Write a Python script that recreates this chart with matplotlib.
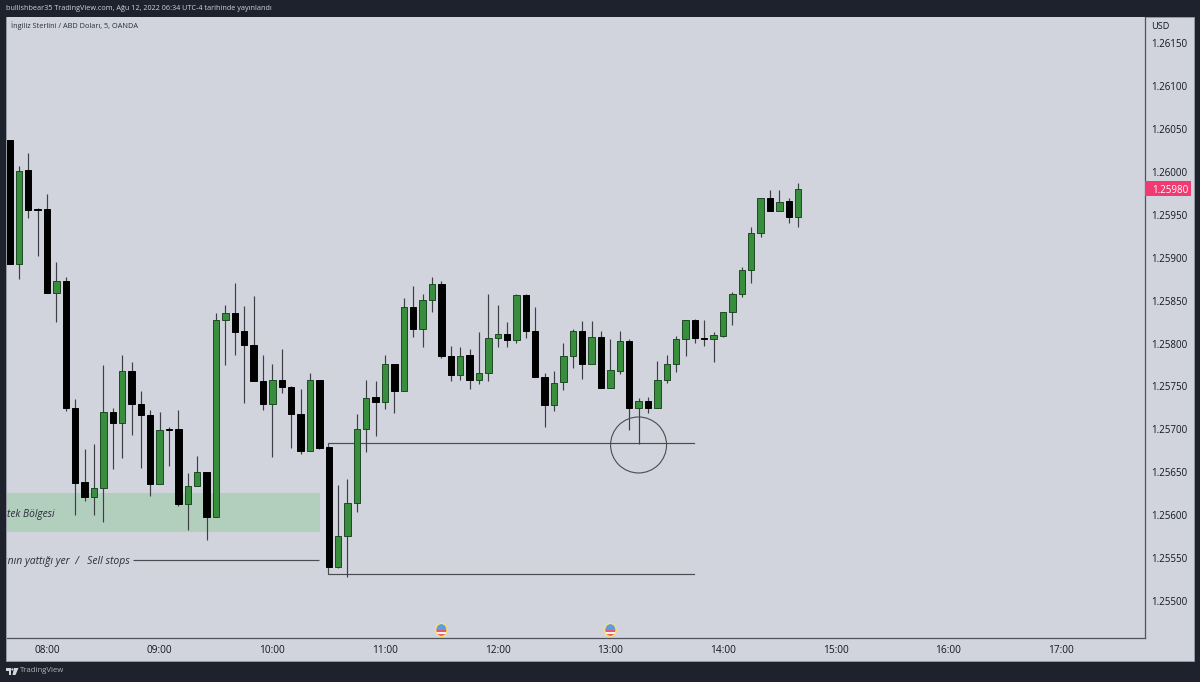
import matplotlib
matplotlib.use("Agg")
import matplotlib.pyplot as plt
from matplotlib.patches import Rectangle, Ellipse, Circle, Polygon
from matplotlib.transforms import blended_transform_factory

# ---- data -------------------------------------------------------------
first_bar = -4
opens = [1.26037,1.25893,1.26002,1.25956,1.25956,1.25859,1.25873,1.25725,1.25639,1.25622,
         1.25632,1.25720,1.25707,1.25768,1.25730,1.25717,1.25637,1.25700,1.25700,1.25613,
         1.25634,1.25651,1.25598,1.25827,1.25835,1.25814,1.25798,1.25756,1.25730,1.25758,
         1.25749,1.25718,1.25675,1.25757,1.25680,1.25540,1.25576,1.25614,1.25701,1.25738,
         1.25732,1.25776,1.25745,1.25843,1.25817,1.25851,1.25869,1.25785,1.25763,1.25787,
         1.25757,1.25766,1.25806,1.25811,1.25804,1.25856,1.25815,1.25761,1.25728,1.25755,
         1.25785,1.25815,1.25776,1.25808,1.25748,1.25768,1.25803,1.25725,1.25733,1.25725,
         1.25758,1.25776,1.25805,1.25827,1.25806,1.25805,1.25809,1.25837,1.25857,1.25886,
         1.25928,1.25969,1.25954,1.25966,1.25947]
closes = [1.25892,1.26001,1.25955,1.25955,1.25859,1.25873,1.25725,1.25638,1.25622,1.25632,
          1.25720,1.25707,1.25768,1.25730,1.25717,1.25637,1.25699,1.25699,1.25613,1.25634,
          1.25650,1.25598,1.25827,1.25835,1.25813,1.25798,1.25756,1.25730,1.25757,1.25749,
          1.25718,1.25675,1.25757,1.25678,1.25540,1.25576,1.25614,1.25701,1.25737,1.25732,
          1.25776,1.25745,1.25843,1.25817,1.25851,1.25869,1.25785,1.25763,1.25786,1.25757,
          1.25766,1.25806,1.25811,1.25804,1.25856,1.25815,1.25761,1.25728,1.25754,1.25785,
          1.25815,1.25776,1.25808,1.25748,1.25769,1.25803,1.25725,1.25733,1.25725,1.25758,
          1.25776,1.25805,1.25827,1.25806,1.25805,1.25810,1.25837,1.25857,1.25886,1.25928,
          1.25969,1.25954,1.25965,1.25947,1.25980]
highs = [1.26037,1.26006,1.26022,1.25957,1.25974,1.25895,1.25877,1.25735,1.25677,1.25683,
         1.25775,1.25725,1.25787,1.25778,1.25745,1.25723,1.25720,1.25703,1.25723,1.25649,
         1.25669,1.25651,1.25836,1.25845,1.25870,1.25844,1.25855,1.25787,1.25776,1.25794,
         1.25751,1.25747,1.25766,1.25758,1.25680,1.25635,1.25642,1.25718,1.25758,1.25756,
         1.25787,1.25776,1.25853,1.25867,1.25858,1.25877,1.25873,1.25797,1.25796,1.25794,
         1.25813,1.25858,1.25845,1.25825,1.25858,1.25857,1.25842,1.25766,1.25768,1.25801,
         1.25817,1.25826,1.25826,1.25815,1.25805,1.25815,1.25805,1.25737,1.25738,1.25780,
         1.25787,1.25809,1.25827,1.25828,1.25827,1.25813,1.25837,1.25860,1.25889,1.25935,
         1.25969,1.25979,1.25979,1.25969,1.25987]
lows = [1.25892,1.25875,1.25946,1.25902,1.25859,1.25825,1.25721,1.25601,1.25617,1.25601,
        1.25593,1.25654,1.25667,1.25694,1.25655,1.25623,1.25637,1.25658,1.25611,1.25583,
        1.25634,1.25571,1.25598,1.25775,1.25787,1.25731,1.25756,1.25723,1.25668,1.25743,
        1.25679,1.25672,1.25675,1.25677,1.25540,1.25539,1.25529,1.25604,1.25674,1.25693,
        1.25724,1.25719,1.25745,1.25807,1.25796,1.25837,1.25783,1.25756,1.25758,1.25747,
        1.25753,1.25756,1.25796,1.25796,1.25801,1.25806,1.25761,1.25703,1.25722,1.25746,
        1.25772,1.25759,1.25776,1.25748,1.25748,1.25765,1.25699,1.25683,1.25719,1.25725,
        1.25754,1.25767,1.25786,1.25801,1.25797,1.25779,1.25807,1.25822,1.25854,1.25870,
        1.25924,1.25954,1.25954,1.25940,1.25935]

price_ticks = [1.25500,1.25550,1.25600,1.25650,1.25700,1.25750,1.25800,1.25850,
               1.25900,1.25950,1.26000,1.26050,1.26100,1.26150]
time_bars = [0,12,24,36,48,60,72,84,96,108]
time_labels = ["08:00","09:00","10:00","11:00","12:00","13:00","14:00","15:00","16:00","17:00"]
event_bars = [42, 60]

zone_top, zone_bottom = 1.25626, 1.25581
stop_line = 1.25548
upper_level, lower_level = 1.25684, 1.25532
circle_bar, circle_price = 63, 1.25682

# ---- style ------------------------------------------------------------
BG = "#1e222d"
PANEL = "#d1d4dc"
GREEN = "#388e3c"
GREEN_EDGE = "#1d4a22"
WICK = "#3d3f44"
TXT = "#131722"
SEP = "#50535e"
LINE = "#4a4c52"
FONT = "Open Sans"
W, H = 1200, 682

fig = plt.figure(figsize=(W/100, H/100), dpi=100, facecolor=BG)

# chrome layer in pixel coordinates
ch = fig.add_axes([0, 0, 1, 1], zorder=0)
ch.set_xlim(0, W); ch.set_ylim(H, 0); ch.axis("off")
ch.add_patch(Rectangle((6, 17), 1187.5, 643.5, fc=PANEL, ec="#9a9da6", lw=0.6))

L, R, T, B = 6.5, 1144.5, 17, 637.5
ax = fig.add_axes([L/W, 1-B/H, (R-L)/W, (B-T)/H], zorder=1)
ax.set_facecolor(PANEL)
ax.set_xlim(-4.313, 116.88)
ax.set_ylim(1.254581, 1.261797)

for s in ("top", "left"):
    ax.spines[s].set_visible(False)
for s in ("right", "bottom"):
    ax.spines[s].set_color(SEP); ax.spines[s].set_linewidth(0.9)

ax.yaxis.tick_right()
ax.set_yticks(price_ticks)
ax.set_yticklabels([f"{p:.5f}" for p in price_ticks], fontfamily=FONT, fontsize=7.0, color=TXT)
ax.set_xticks(time_bars)
ax.set_xticklabels(time_labels, fontfamily=FONT, fontsize=7.3, color=TXT)
ax.tick_params(axis="y", length=0, pad=4.8)
ax.tick_params(axis="x", length=0, pad=5.4)

# zone and drawings
ax.add_patch(Rectangle((-5, zone_bottom), 34.07, zone_top-zone_bottom, fc="#b2cfbd", ec="none", zorder=1))
ax.text(-4.25, (zone_top+zone_bottom)/2 - 0.00002, "tek Bölgesi", fontfamily=FONT, style="italic",
        fontsize=7.3, color="#2a2e39", va="center", ha="left", zorder=2)
ax.text(8.85, stop_line - 0.00001, "ının yattığı yer  /   Sell stops", fontfamily=FONT, style="italic",
        fontsize=7.5, color="#2a2e39", va="center", ha="right", zorder=2, clip_on=True)
ax.plot([9.2, 29], [stop_line, stop_line], color=LINE, lw=0.85, zorder=2, solid_capstyle="butt")
ax.plot([68.9, 29.93, 29.93, 68.9], [upper_level, upper_level, lower_level, lower_level],
        color=LINE, lw=0.85, zorder=2, solid_joinstyle="miter")

# candles
for k, (o, h, l, c) in enumerate(zip(opens, highs, lows, closes)):
    i = first_bar + k
    up = c >= o
    ax.vlines(i, l, h, color=WICK, lw=0.85, zorder=3)
    body_low, body_high = min(o, c), max(o, c)
    ax.bar(i, max(body_high-body_low, 0.00001), bottom=body_low, width=0.68,
           color=GREEN if up else "black", edgecolor=GREEN_EDGE if up else "black",
           linewidth=0.7, zorder=4)

ax.add_patch(Ellipse((circle_bar, circle_price), 5.96, 0.000651, fc="none", ec=LINE, lw=0.8, zorder=5))

# last-price tag
tr = blended_transform_factory(ax.transAxes, ax.transData)
last = closes[-1]
ax.add_patch(Rectangle((1.0, last-0.000084), 46.5/(R-L), 0.000168, transform=tr, fc="#f23a72",
                       ec="none", clip_on=False, zorder=6))
ax.text(1+7.3/(R-L), last, f"{last:.5f}", transform=tr, color="white", fontfamily=FONT,
        fontsize=7.0, va="center_baseline", ha="left", zorder=7, clip_on=False)

# event flags
fig.canvas.draw()
for b in event_bars:
    px = ax.transData.transform((b, ax.get_ylim()[0]))[0]
    py = 630
    flag = fig.add_axes([(px-7.5)/W, 1-(py+7.5)/H, 15/W, 15/H], zorder=8)
    flag.set_xlim(-7.5, 7.5); flag.set_ylim(7.5, -7.5); flag.axis("off")
    clip = Ellipse((0, 0), 11, 12.6, fc="#f4f4f6", ec="none")
    flag.add_patch(clip)
    for x0, y0, w, h, col in [(-6, -7, 12, 7, "#5b9be8"), (-6, 0.4, 12, 1.9, "#ea5a62"),
                              (-6, 3.8, 12, 2.6, "#ea5a62")]:
        r = Rectangle((x0, y0), w, h, fc=col, ec="none")
        flag.add_patch(r)
        r.set_clip_path(clip)
    flag.add_patch(Ellipse((0, 0), 11.4, 13, fc="none", ec="#fbe36b", lw=0.9))

# texts
ch2 = fig.add_axes([0, 0, 1, 1], zorder=9)
ch2.set_xlim(0, W); ch2.set_ylim(H, 0); ch2.axis("off"); ch2.patch.set_alpha(0)
ch2.text(6, 9, "bullishbear35 TradingView.com, Ağu 12, 2022 06:34 UTC-4 tarihinde yayınlandı",
         fontfamily=FONT, fontsize=5.2, color="#d1d4dc", va="center", ha="left")
ch2.text(11, 26, "İngiliz Sterlini / ABD Doları, 5, OANDA", fontfamily=FONT, fontsize=5.3,
         color="#2a2e39", va="center", ha="left")
ch2.text(1151, 26.5, "USD", fontfamily=FONT, fontsize=6.6, color=TXT, va="center", ha="left")
ch2.text(20, 671, "TradingView", fontfamily=FONT, fontsize=5.6, color="#b2b5be", va="center", ha="left")
# TradingView mark
ch2.add_patch(Polygon([(6, 668), (11, 668), (11, 675), (8.5, 675), (8.5, 670.5), (6, 670.5)], fc="#d1d4dc", ec="none"))
ch2.add_patch(Circle((12.3, 669.4), 1.1, fc="#d1d4dc", ec="none"))
ch2.add_patch(Polygon([(14, 668), (18.5, 668), (15.5, 675), (12.5, 675)], fc="#d1d4dc", ec="none"))

fig.savefig("out.png", dpi=100, facecolor=BG)
